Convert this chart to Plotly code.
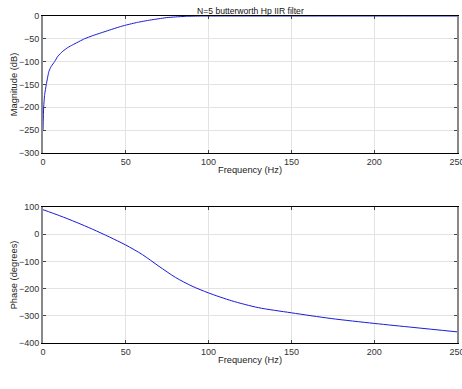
import plotly.graph_objects as go

# Magnitude response
mag_freq = [0, 0.4, 1, 2, 3.6, 5, 7, 9, 12, 15, 18, 25, 30, 35, 40, 46, 50, 57, 64.5, 70, 74.5, 80, 86.6, 95, 105, 250]
mag_db = [-250, -200, -172, -150, -121, -110, -100, -88, -77, -69, -63, -50, -43, -37, -31, -24, -20, -14, -9, -6, -3.6, -2, -0.7, -0.1, 0, 0]

# Phase response
ph_freq = [0, 10, 20, 30, 40, 50, 60, 70, 80, 90, 100, 114, 130, 150, 174, 200, 224, 250]
ph_deg = [90, 68, 44, 18, -10, -40, -75, -118, -159, -191, -216, -245, -270, -289, -310, -328, -343, -359]

title_text = "N=5 butterworth Hp IIR filter"
xlabel = "Frequency (Hz)"
ylabel_mag = "Magnitude (dB)"
ylabel_ph = "Phase (degrees)"

FONT = "Liberation Sans, Arial, Helvetica, sans-serif"
LINE = "#1a1ad8"
TICKF = dict(size=9, color="#333", family=FONT)
LABF = dict(size=9.3, color="#222", family=FONT)

fig = go.Figure()
fig.add_trace(go.Scatter(x=mag_freq, y=mag_db, mode="lines",
                         line=dict(color=LINE, width=1, shape="spline", smoothing=0.5),
                         xaxis="x", yaxis="y", showlegend=False, hoverinfo="skip"))
fig.add_trace(go.Scatter(x=ph_freq, y=ph_deg, mode="lines",
                         line=dict(color=LINE, width=1, shape="spline", smoothing=0.8),
                         xaxis="x2", yaxis="y2", showlegend=False, hoverinfo="skip"))

xcommon = dict(range=[0, 250], tickvals=[0, 50, 100, 150, 200, 250], showgrid=True,
               gridcolor="#e3e3e3", gridwidth=1, automargin=False, ticklabeloverflow="allow",
               showline=True, linecolor="black", linewidth=1, mirror="ticks",
               ticks="inside", ticklen=3, tickcolor="#444", zeroline=False,
               tickfont=TICKF, title=dict(text=xlabel, font=LABF, standoff=0))
ycommon = dict(showgrid=True, gridcolor="#e3e3e3", gridwidth=1, automargin=False,
               showline=True, linecolor="#888888", linewidth=2, mirror="ticks",
               ticks="inside", ticklen=3, tickcolor="#444", zeroline=False,
               tickfont=TICKF)

fig.update_layout(
    width=462, height=389,
    margin=dict(l=43, r=5, t=16, b=46, autoexpand=False),
    paper_bgcolor="white", plot_bgcolor="white",
    font=dict(family=FONT, size=9, color="#222"),
    xaxis=dict(**xcommon, domain=[0, 1], anchor="y"),
    yaxis=dict(**ycommon, domain=[0.581, 1.0], anchor="x", range=[-300, 0], dtick=50,
               title=dict(text=ylabel_mag, font=LABF, standoff=0)),
    xaxis2=dict(**xcommon, domain=[0, 1], anchor="y2"),
    yaxis2=dict(**ycommon, domain=[0, 0.416], anchor="x2", range=[-400, 100], dtick=100,
                title=dict(text=ylabel_ph, font=LABF, standoff=0)),
    annotations=[dict(text=title_text, x=0.5, y=1.0, xref="paper", yref="paper",
                      xanchor="center", yanchor="bottom", yshift=-2, showarrow=False,
                      font=dict(size=8.6, color="#111", family=FONT))],
)

fig.write_html("out.html", config={"displayModeBar": False, "staticPlot": True},
               post_script="document.body.style.margin='0';")
